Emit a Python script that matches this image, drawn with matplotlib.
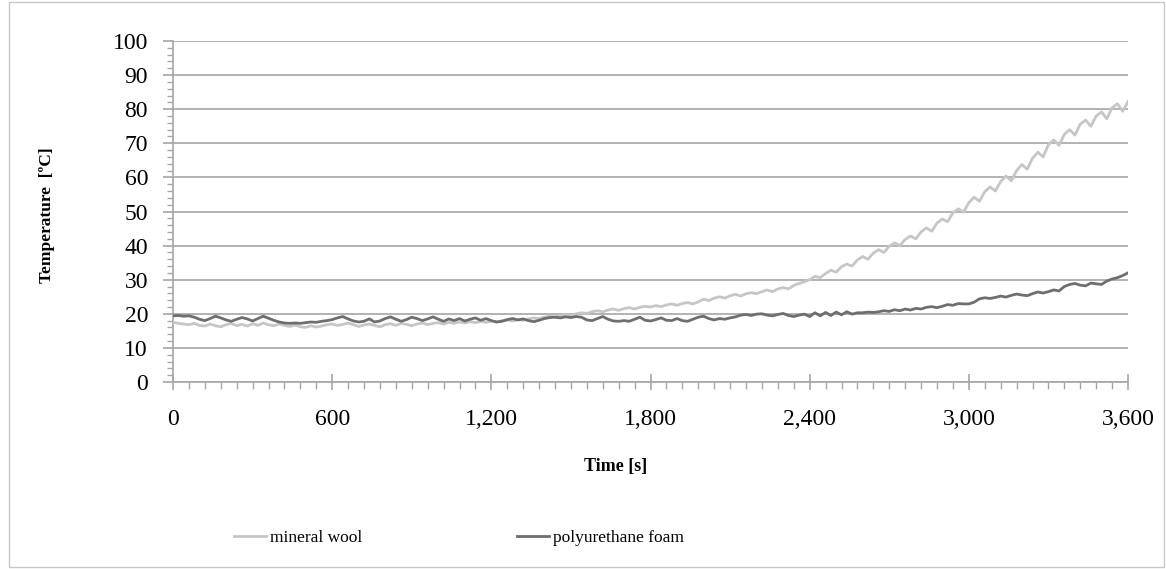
import matplotlib
matplotlib.use('Agg')
import matplotlib.pyplot as plt
from matplotlib.patches import Rectangle
from matplotlib.ticker import MultipleLocator, FuncFormatter

plt.rcParams['font.family'] = ['Liberation Serif', 'DejaVu Serif']

# time in seconds, one reading every 20 s
time_s = list(range(0, 3601, 20))

mineral_wool = [
    17.5, 17.2, 17.0, 16.8, 17.2, 16.6, 16.4, 17.0, 16.5, 16.2,
    16.8, 17.2, 16.5, 16.9, 16.4, 17.1, 16.6, 17.3, 16.8, 16.5,
    17.0, 16.6, 16.3, 16.7, 16.2, 16.0, 16.5, 16.1, 16.4, 16.8,
    17.0, 16.6, 16.9, 17.3, 16.8, 16.3, 16.7, 17.0, 16.6, 16.2,
    16.8, 17.1, 16.6, 17.2, 16.9, 16.5, 17.0, 17.3, 16.8, 17.2,
    17.4, 17.0, 17.5, 17.2, 17.6, 17.3, 17.7, 17.4, 17.8, 17.5,
    17.9, 17.6, 18.0, 18.2, 17.9, 18.3, 18.1, 18.5, 18.8, 18.6,
    19.0, 19.3, 19.1, 19.5, 19.8, 19.6, 20.0, 20.3, 20.1, 20.6,
    20.9, 20.6, 21.1, 21.4, 21.0, 21.5, 21.8, 21.4, 21.9, 22.2,
    22.0, 22.4, 22.1, 22.6, 22.9, 22.5, 23.0, 23.3, 22.9, 23.5,
    24.3, 23.9, 24.6, 25.0, 24.6, 25.3, 25.7, 25.2, 25.9, 26.2,
    25.9, 26.5, 27.0, 26.5, 27.3, 27.7, 27.3, 28.3, 28.9, 29.4,
    30.0, 31.0, 30.6, 31.8, 32.8, 32.2, 33.8, 34.6, 34.0, 35.8,
    36.8, 36.0, 37.8, 38.8, 38.0, 39.8, 40.8, 40.0, 41.8, 42.8,
    42.0, 44.0, 45.2, 44.2, 46.6, 47.8, 47.0, 49.6, 50.8, 49.8,
    52.6, 54.2, 53.0, 55.8, 57.2, 56.0, 58.8, 60.4, 59.0, 62.0,
    63.8, 62.4, 65.6, 67.4, 66.0, 69.6, 71.0, 69.4, 72.6, 74.0,
    72.4, 75.6, 76.8, 75.0, 78.0, 79.2, 77.2, 80.4, 81.6, 79.4,
    82.2,
]

polyurethane_foam = [
    19.4, 19.5, 19.3, 19.4, 19.0, 18.4, 18.0, 18.6, 19.3, 18.8,
    18.2, 17.8, 18.4, 18.9, 18.5, 17.9, 18.6, 19.3, 18.7, 18.1,
    17.6, 17.3, 17.2, 17.3, 17.2, 17.4, 17.6, 17.5, 17.8, 18.0,
    18.3, 18.8, 19.2, 18.5, 17.9, 17.6, 17.8, 18.5, 17.6, 17.9,
    18.6, 19.1, 18.4, 17.8, 18.3, 19.0, 18.6, 18.0, 18.5, 19.1,
    18.4, 17.8, 18.5, 18.0, 18.6, 17.9, 18.4, 18.8, 18.1, 18.6,
    18.0, 17.6, 17.8, 18.3, 18.6, 18.2, 18.5, 18.0, 17.7, 18.1,
    18.6, 18.9, 19.0, 18.8, 19.1, 18.9, 19.2, 19.0, 18.2, 18.0,
    18.6, 19.2, 18.4, 17.9, 17.8, 18.0, 17.8, 18.4, 19.0, 18.1,
    17.9, 18.3, 18.8, 18.1, 18.0, 18.6, 18.0, 17.8, 18.4, 19.0,
    19.3, 18.6, 18.2, 18.6, 18.4, 18.8, 19.1, 19.6, 19.8, 19.5,
    19.9, 20.0, 19.6, 19.4, 19.8, 20.1, 19.5, 19.2, 19.6, 19.9,
    19.2, 20.3, 19.4, 20.4, 19.5, 20.5, 19.7, 20.6, 19.9, 20.3,
    20.3, 20.5, 20.4, 20.6, 20.9, 20.7, 21.2, 20.9, 21.4, 21.1,
    21.6, 21.4, 21.9, 22.1, 21.8, 22.2, 22.7, 22.5, 23.0, 22.9,
    22.9, 23.4, 24.4, 24.7, 24.5, 24.8, 25.2, 24.9, 25.4, 25.8,
    25.5, 25.3, 25.9, 26.4, 26.1, 26.5, 27.0, 26.7, 28.0, 28.6,
    28.9, 28.4, 28.2, 29.0, 28.8, 28.6, 29.6, 30.2, 30.6, 31.2,
    32.0,
]

x_ticks = [0, 600, 1200, 1800, 2400, 3000, 3600]
y_ticks = list(range(0, 101, 10))

grid_col = '#a6a6a6'

fig = plt.figure(figsize=(11.66, 5.69), dpi=100)
fig.patches.append(Rectangle((9 / 1166, 2 / 569), 1155 / 1166, 565 / 569,
                             transform=fig.transFigure, fill=False,
                             edgecolor='#c8c8c8', lw=1))
ax = fig.add_axes([173 / 1166, 187 / 569, 955 / 1166, 341 / 569])

ax.plot(time_s, mineral_wool, color='#c6c6c6', lw=2.0, label='mineral wool', zorder=3)
ax.plot(time_s, polyurethane_foam, color='#6e6e6e', lw=2.0, label='polyurethane foam', zorder=4)

ax.set_xlim(0, 3600)
ax.set_ylim(0, 100)
ax.set_xticks(x_ticks)
ax.set_yticks(y_ticks)
ax.xaxis.set_minor_locator(MultipleLocator(60))
ax.yaxis.set_minor_locator(MultipleLocator(2))
ax.xaxis.set_major_formatter(FuncFormatter(lambda v, p: '{:,.0f}'.format(v)))

ax.grid(axis='y', color=grid_col, lw=1.2)
ax.set_axisbelow(True)
for s in ['top', 'right']:
    ax.spines[s].set_visible(False)
for s in ['left', 'bottom']:
    ax.spines[s].set_color(grid_col)
    ax.spines[s].set_linewidth(1.2)

ax.tick_params(axis='x', which='major', direction='inout', length=11, width=1.2,
               color=grid_col, labelsize=17, pad=14)
ax.tick_params(axis='x', which='minor', direction='out', length=5, width=1,
               color=grid_col)
ax.tick_params(axis='y', which='major', direction='out', length=7, width=1.2,
               color=grid_col, labelsize=17, pad=11)
ax.tick_params(axis='y', which='minor', direction='out', length=4.5, width=1,
               color=grid_col)

fig.text(616 / 1166, 1 - 467 / 569, 'Time [s]', ha='center', va='center',
         fontsize=13, fontweight='bold')
fig.text(47 / 1166, 1 - 215 / 569, 'Temperature  [ºC]', ha='center', va='center',
         rotation=90, fontsize=12.5, fontweight='bold')

fig.legend(loc='center', bbox_to_anchor=(0.5 - 124 / 1166, 1 - 538 / 569), ncol=2,
           frameon=False, fontsize=12.5, handlelength=1.85, handletextpad=0.25,
           columnspacing=8.9)

fig.savefig('out.png', dpi=100)
